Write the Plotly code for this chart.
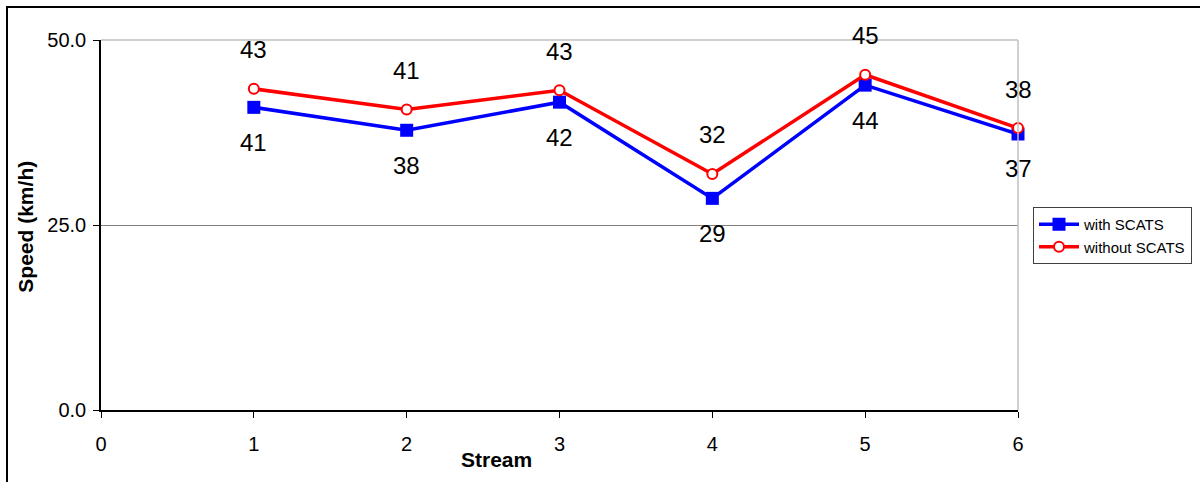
import plotly.graph_objects as go

# Average speed per stream, with and without SCATS signal control
streams = [1, 2, 3, 4, 5, 6]
with_scats = [40.9, 37.8, 41.6, 28.6, 43.9, 37.3]
without_scats = [43.4, 40.6, 43.2, 31.9, 45.3, 38.1]

x_ticks = [0, 1, 2, 3, 4, 5, 6]
y_ticks = [0, 25, 50]

FONT = "Liberation Sans, Arial, sans-serif"

fig = go.Figure()

fig.add_trace(go.Scatter(
    x=streams, y=with_scats, name="with SCATS", mode="lines+markers",
    line=dict(color="#0000ff", width=3.5),
    marker=dict(symbol="square", size=13, color="#0000ff"),
    cliponaxis=False,
))
fig.add_trace(go.Scatter(
    x=streams, y=without_scats, name="without SCATS", mode="lines+markers",
    line=dict(color="#ff0000", width=3.5),
    marker=dict(symbol="circle", size=10, color="white",
                line=dict(color="#ff0000", width=2)),
    cliponaxis=False,
))

# Rounded value labels: above the red series, below the blue one
for xv, yv in zip(streams, without_scats):
    fig.add_annotation(x=xv, y=yv, text=f"{yv:.0f}", showarrow=False,
                       yshift=39, font=dict(family=FONT, size=24, color="black"))
for xv, yv in zip(streams, with_scats):
    fig.add_annotation(x=xv, y=yv, text=f"{yv:.0f}", showarrow=False,
                       yshift=-35, font=dict(family=FONT, size=24, color="black"))

# Axis titles
fig.add_annotation(xref="paper", yref="paper", x=0.431, y=-0.135,
                   xanchor="center", yanchor="middle",
                   text="<b>Stream</b>", showarrow=False,
                   font=dict(family=FONT, size=21, color="black"))
fig.add_annotation(xref="paper", yref="paper", x=-0.082, y=0.495,
                   xanchor="center", yanchor="middle",
                   text="<b>Speed (km/h)</b>", showarrow=False, textangle=-90,
                   font=dict(family=FONT, size=21, color="black"))

# Light grey plot-area frame on the top and right sides
fig.add_shape(type="line", xref="paper", yref="paper", x0=0, x1=1, y0=1, y1=1,
              line=dict(color="#c0c0c0", width=1.5), layer="above")
fig.add_shape(type="line", xref="paper", yref="paper", x0=1, x1=1, y0=0, y1=1,
              line=dict(color="#c0c0c0", width=1.5), layer="above")

# Outer chart border
fig.add_shape(type="rect", xref="paper", yref="paper",
              x0=-0.1025, x1=1.25, y0=-0.25, y1=1.0892,
              line=dict(color="black", width=2), layer="below")

fig.update_layout(
    width=1200, height=482,
    margin=dict(l=101, r=182, t=40, b=72, autoexpand=False),
    paper_bgcolor="white", plot_bgcolor="white",
    font=dict(family=FONT, color="black"),
    showlegend=True,
    legend=dict(
        xref="container", yref="container",
        x=1033 / 1200, y=1 - 207 / 482, xanchor="left", yanchor="top",
        bgcolor="white", bordercolor="#404040", borderwidth=1,
        font=dict(family=FONT, size=15, color="black"),
        itemwidth=40,
    ),
    xaxis=dict(
        range=[0, 6], tickvals=x_ticks, ticktext=[str(v) for v in x_ticks],
        showgrid=False, zeroline=False,
        showline=True, linecolor="black", linewidth=1.5,
        ticks="outside", ticklen=6, tickcolor="black", tickwidth=1,
        tickfont=dict(family=FONT, size=20, color="black"),
        ticklabelstandoff=9, fixedrange=True,
    ),
    yaxis=dict(
        range=[0, 50], tickvals=y_ticks, tickformat=".1f",
        showgrid=True, gridcolor="#808080", gridwidth=1, zeroline=False,
        showline=True, linecolor="black", linewidth=1.5,
        ticks="outside", ticklen=6, tickcolor="black", tickwidth=1,
        tickfont=dict(family=FONT, size=20, color="black"),
        ticklabelstandoff=3, fixedrange=True,
    ),
)

fig.write_html("out.html")
